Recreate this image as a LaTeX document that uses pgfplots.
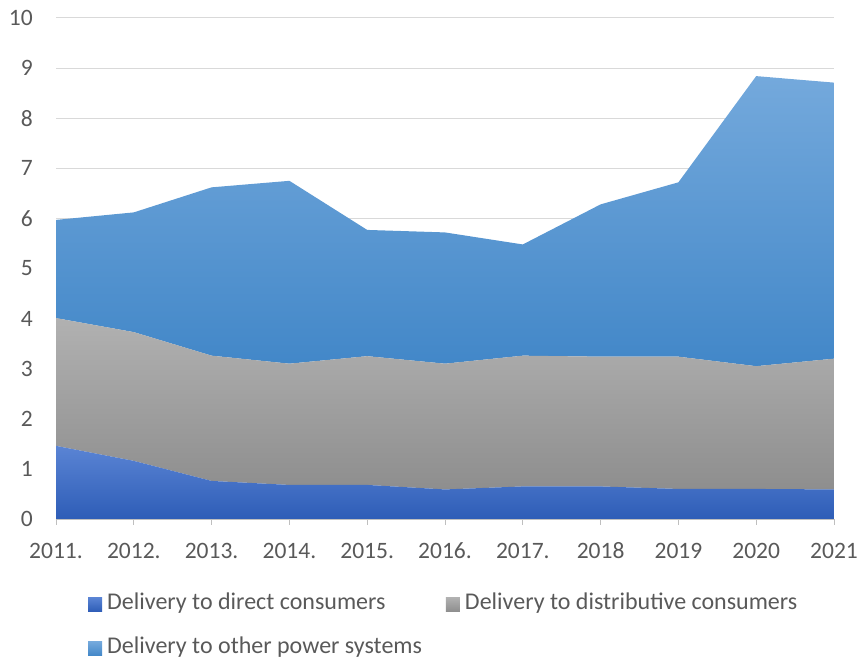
\documentclass[border=0pt]{standalone}
\usepackage{fontspec}
\setmainfont{Carlito}
\usepackage{pgfplots}
\pgfplotsset{compat=1.18}
\definecolor{txt}{HTML}{595959}
\definecolor{gridc}{HTML}{D9D9D9}
\definecolor{axc}{HTML}{BFBFBF}
\definecolor{dirT}{HTML}{5A84D4}
\definecolor{dirB}{HTML}{2E5DB7}
\definecolor{disT}{HTML}{B1B1B1}
\definecolor{disB}{HTML}{8E8E8E}
\definecolor{othT}{HTML}{74A9DC}
\definecolor{othB}{HTML}{4287C8}
\begin{document}
\begin{tikzpicture}
\useasboundingbox (0,0) rectangle (858bp,660bp);
\begin{axis}[
  at={(56bp,141bp)}, anchor=south west,
  scale only axis, width=778bp, height=501bp,
  stack plots=y,
  xmin=0, xmax=10, ymin=0, ymax=10,
  xtick={0,...,10},
  xticklabels={2011.,2012.,2013.,2014.,2015.,2016.,2017.,2018,2019,2020,2021},
  ytick={0,1,...,10},
  axis x line*=bottom, axis y line*=left,
  x axis line style={draw=axc, line width=1bp, -},
  y axis line style={draw=none},
  x tick style={draw=axc, line width=1bp},
  xtick align=outside, major tick length=6bp,
  ytick style={draw=none},
  ymajorgrids, major grid style={draw=gridc, line width=1bp},
  tick label style={font=\fontsize{23.5bp}{28bp}\selectfont, text=txt},
  /pgf/number format/assume math mode=true,
  yticklabel style={inner sep=0pt, xshift=-23bp},
  xticklabel style={inner sep=0pt, anchor=north, text height=15bp, text depth=0pt, yshift=-18bp},
  legend columns=2,
  legend style={draw=none, fill=none, font=\fontsize{24bp}{28bp}\selectfont, text=txt,
    at={(axis description cs:0.0411,-0.145)}, anchor=north west,
    inner sep=0pt, row sep=24bp,
    /tikz/every odd column/.append style={column sep=4bp},
    /tikz/every even column/.append style={column sep=23bp},
    nodes={inner sep=1bp, anchor=base west}},
  legend cell align=left,
  legend image code/.code={\fill[#1] (0bp,-2bp) rectangle (14bp,12bp);},
]
\addplot[draw=none, top color=dirT, bottom color=dirB] coordinates {
(0,1.46) (1,1.16) (2,0.76) (3,0.68) (4,0.68) (5,0.59) (6,0.65) (7,0.65) (8,0.60) (9,0.60) (10,0.59)
} \closedcycle;
\addlegendentry{Delivery to direct consumers}
\addplot[draw=none, top color=disT, bottom color=disB] coordinates {
(0,2.55) (1,2.57) (2,2.50) (3,2.42) (4,2.57) (5,2.51) (6,2.61) (7,2.59) (8,2.64) (9,2.45) (10,2.61)
} \closedcycle;
\addlegendentry{Delivery to distributive consumers}
\addplot[draw=none, top color=othT, bottom color=othB] coordinates {
(0,1.96) (1,2.39) (2,3.36) (3,3.65) (4,2.52) (5,2.62) (6,2.22) (7,3.04) (8,3.48) (9,5.79) (10,5.51)
} \closedcycle;
\addlegendentry{Delivery to other power systems}
\end{axis}
\end{tikzpicture}
\end{document}
